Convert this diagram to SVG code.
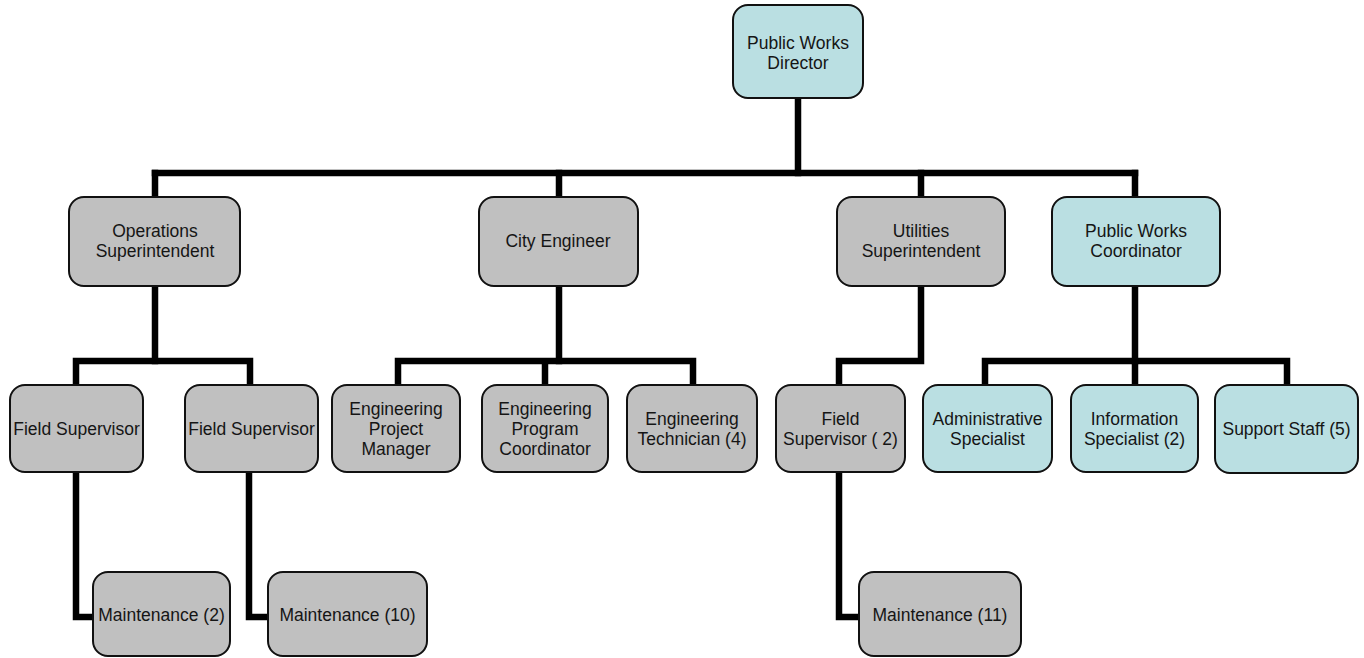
<svg xmlns="http://www.w3.org/2000/svg" width="1364" height="658" viewBox="0 0 1364 658">
  <style>
    .wire { fill: none; stroke: #000; stroke-width: 6.5; stroke-linecap: square; stroke-linejoin: miter; }
    .box { stroke: #111; stroke-width: 2; }
    .gray { fill: #C0C0C0; }
    .teal { fill: #BADFE2; }
    text { font-family: "Liberation Sans", Arial, sans-serif; font-size: 17.5px; fill: #151515; text-anchor: middle; }
  </style>
  <rect width="1364" height="658" fill="#fff"/>

  <!-- reporting lines -->
  <g id="connectors">
    <path class="wire" d="M798 98 V173"/>
    <path class="wire" d="M155 173 H1135"/>
    <path class="wire" d="M155 173 V197 M559 173 V197 M921 173 V197 M1135 173 V197"/>
    <!-- operations -->
    <path class="wire" d="M155 286 V361"/>
    <path class="wire" d="M76 385 V361 H250 V385"/>
    <path class="wire" d="M76 472 V617 H93"/>
    <path class="wire" d="M249 472 V617 H268"/>
    <!-- engineering -->
    <path class="wire" d="M559 286 V361"/>
    <path class="wire" d="M398 385 V361 H693 V385 M545 361 V385"/>
    <!-- utilities -->
    <path class="wire" d="M921 286 V361 H839 V385"/>
    <path class="wire" d="M839 472 V617 H859"/>
    <!-- administration -->
    <path class="wire" d="M1135 286 V361"/>
    <path class="wire" d="M985 385 V361 H1287 V385 M1135 361 V385"/>
  </g>

  <g id="director">
    <rect class="box teal" x="733" y="5" width="130" height="93" rx="15"/>
    <text x="798" y="49">Public Works</text>
    <text x="798" y="69">Director</text>
  </g>

  <g id="operations-superintendent">
    <rect class="box gray" x="69" y="197" width="171" height="89" rx="15"/>
    <text x="155" y="237">Operations</text>
    <text x="155" y="257">Superintendent</text>
  </g>
  <g id="city-engineer">
    <rect class="box gray" x="479" y="197" width="159" height="89" rx="15"/>
    <text x="558" y="247">City Engineer</text>
  </g>
  <g id="utilities-superintendent">
    <rect class="box gray" x="837" y="197" width="168" height="89" rx="15"/>
    <text x="921" y="237">Utilities</text>
    <text x="921" y="257">Superintendent</text>
  </g>
  <g id="public-works-coordinator">
    <rect class="box teal" x="1052" y="197" width="168" height="89" rx="15"/>
    <text x="1136" y="237">Public Works</text>
    <text x="1136" y="257">Coordinator</text>
  </g>

  <g id="field-supervisor-1">
    <rect class="box gray" x="10" y="385" width="133" height="87" rx="15"/>
    <text x="76.5" y="435">Field Supervisor</text>
  </g>
  <g id="field-supervisor-2">
    <rect class="box gray" x="185" y="385" width="133" height="87" rx="15"/>
    <text x="251.5" y="435">Field Supervisor</text>
  </g>
  <g id="engineering-project-manager">
    <rect class="box gray" x="332" y="385" width="128" height="87" rx="15"/>
    <text x="396" y="415">Engineering</text>
    <text x="396" y="435">Project</text>
    <text x="396" y="455">Manager</text>
  </g>
  <g id="engineering-program-coordinator">
    <rect class="box gray" x="482" y="385" width="126" height="87" rx="15"/>
    <text x="545" y="415">Engineering</text>
    <text x="545" y="435">Program</text>
    <text x="545" y="455">Coordinator</text>
  </g>
  <g id="engineering-technician">
    <rect class="box gray" x="627" y="385" width="130" height="87" rx="15"/>
    <text x="692" y="425">Engineering</text>
    <text x="692" y="445">Technician (4)</text>
  </g>
  <g id="utilities-field-supervisor">
    <rect class="box gray" x="776" y="385" width="129" height="87" rx="15"/>
    <text x="840.5" y="425">Field</text>
    <text x="840.5" y="445">Supervisor ( 2)</text>
  </g>
  <g id="administrative-specialist">
    <rect class="box teal" x="923" y="385" width="129" height="87" rx="15"/>
    <text x="987.5" y="425">Administrative</text>
    <text x="987.5" y="445">Specialist</text>
  </g>
  <g id="information-specialist">
    <rect class="box teal" x="1071" y="385" width="127" height="87" rx="15"/>
    <text x="1134.5" y="425">Information</text>
    <text x="1134.5" y="445">Specialist (2)</text>
  </g>
  <g id="support-staff">
    <rect class="box teal" x="1215" y="385" width="143" height="88" rx="15"/>
    <text x="1286.5" y="435">Support Staff (5)</text>
  </g>

  <g id="maintenance-2">
    <rect class="box gray" x="93" y="572" width="137" height="84" rx="15"/>
    <text x="161.5" y="621">Maintenance (2)</text>
  </g>
  <g id="maintenance-10">
    <rect class="box gray" x="268" y="572" width="159" height="84" rx="15"/>
    <text x="347.5" y="621">Maintenance (10)</text>
  </g>
  <g id="maintenance-11">
    <rect class="box gray" x="859" y="572" width="162" height="84" rx="15"/>
    <text x="940" y="621">Maintenance (11)</text>
  </g>
</svg>
